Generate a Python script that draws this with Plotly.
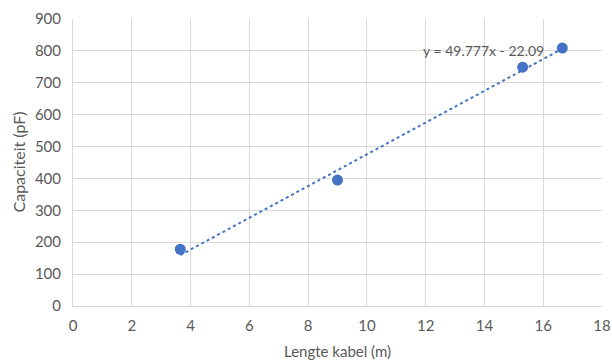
import plotly.graph_objects as go

lengte = [3.65, 9.0, 15.3, 16.65]
capaciteit = [178, 395, 749, 809]
slope = 49.777
intercept = -22.09
x_ticks = [0, 2, 4, 6, 8, 10, 12, 14, 16, 18]
y_ticks = [0, 100, 200, 300, 400, 500, 600, 700, 800, 900]
x_title = "Lengte kabel (m)"
y_title = "Capaciteit (pF)"

FONT = "Lato"
GREY = "#595959"
BLUE = "#4472C4"

x_fit = [min(lengte), max(lengte)]
y_fit = [slope * v + intercept for v in x_fit]

fig = go.Figure()
fig.add_trace(go.Scatter(x=x_fit, y=y_fit, mode="lines",
                         line=dict(color=BLUE, width=2, dash="dot"),
                         hoverinfo="skip", showlegend=False))
fig.add_trace(go.Scatter(x=lengte, y=capaciteit, mode="markers",
                         marker=dict(color=BLUE, size=11),
                         showlegend=False))

fig.add_annotation(x=16.1, y=800, xref="x", yref="y",
                   text=f"y = {slope}x - {abs(intercept)}",
                   showarrow=False, xanchor="right", yanchor="middle",
                   font=dict(family=FONT, size=14, color=GREY))
fig.add_annotation(x=0.5, y=0, xref="paper", yref="paper", yshift=-45,
                   text=x_title, showarrow=False, xanchor="center",
                   yanchor="middle",
                   font=dict(family=FONT, size=15, color=GREY))
fig.add_annotation(x=0, y=0.5, xref="paper", yref="paper", xshift=-55,
                   text=y_title, showarrow=False, textangle=-90,
                   xanchor="center", yanchor="middle",
                   font=dict(family=FONT, size=16, color=GREY))

fig.update_layout(
    width=612, height=360,
    margin=dict(l=73, r=10, t=19, b=54),
    paper_bgcolor="white", plot_bgcolor="white",
    font=dict(family=FONT, size=15, color=GREY),
    xaxis=dict(range=[0, 18], tickvals=x_ticks, showgrid=True,
               gridcolor="#d9d9d9", gridwidth=1, zeroline=False,
               showline=True, linecolor="#d9d9d9", mirror=False,
               ticks="", ticklabelstandoff=6, automargin=False),
    yaxis=dict(range=[0, 900], tickvals=y_ticks, showgrid=True,
               gridcolor="#d9d9d9", gridwidth=1, zeroline=False,
               showline=True, linecolor="#d9d9d9",
               ticks="", ticklabelstandoff=8, automargin=False),
)

fig.write_html("out.html")
